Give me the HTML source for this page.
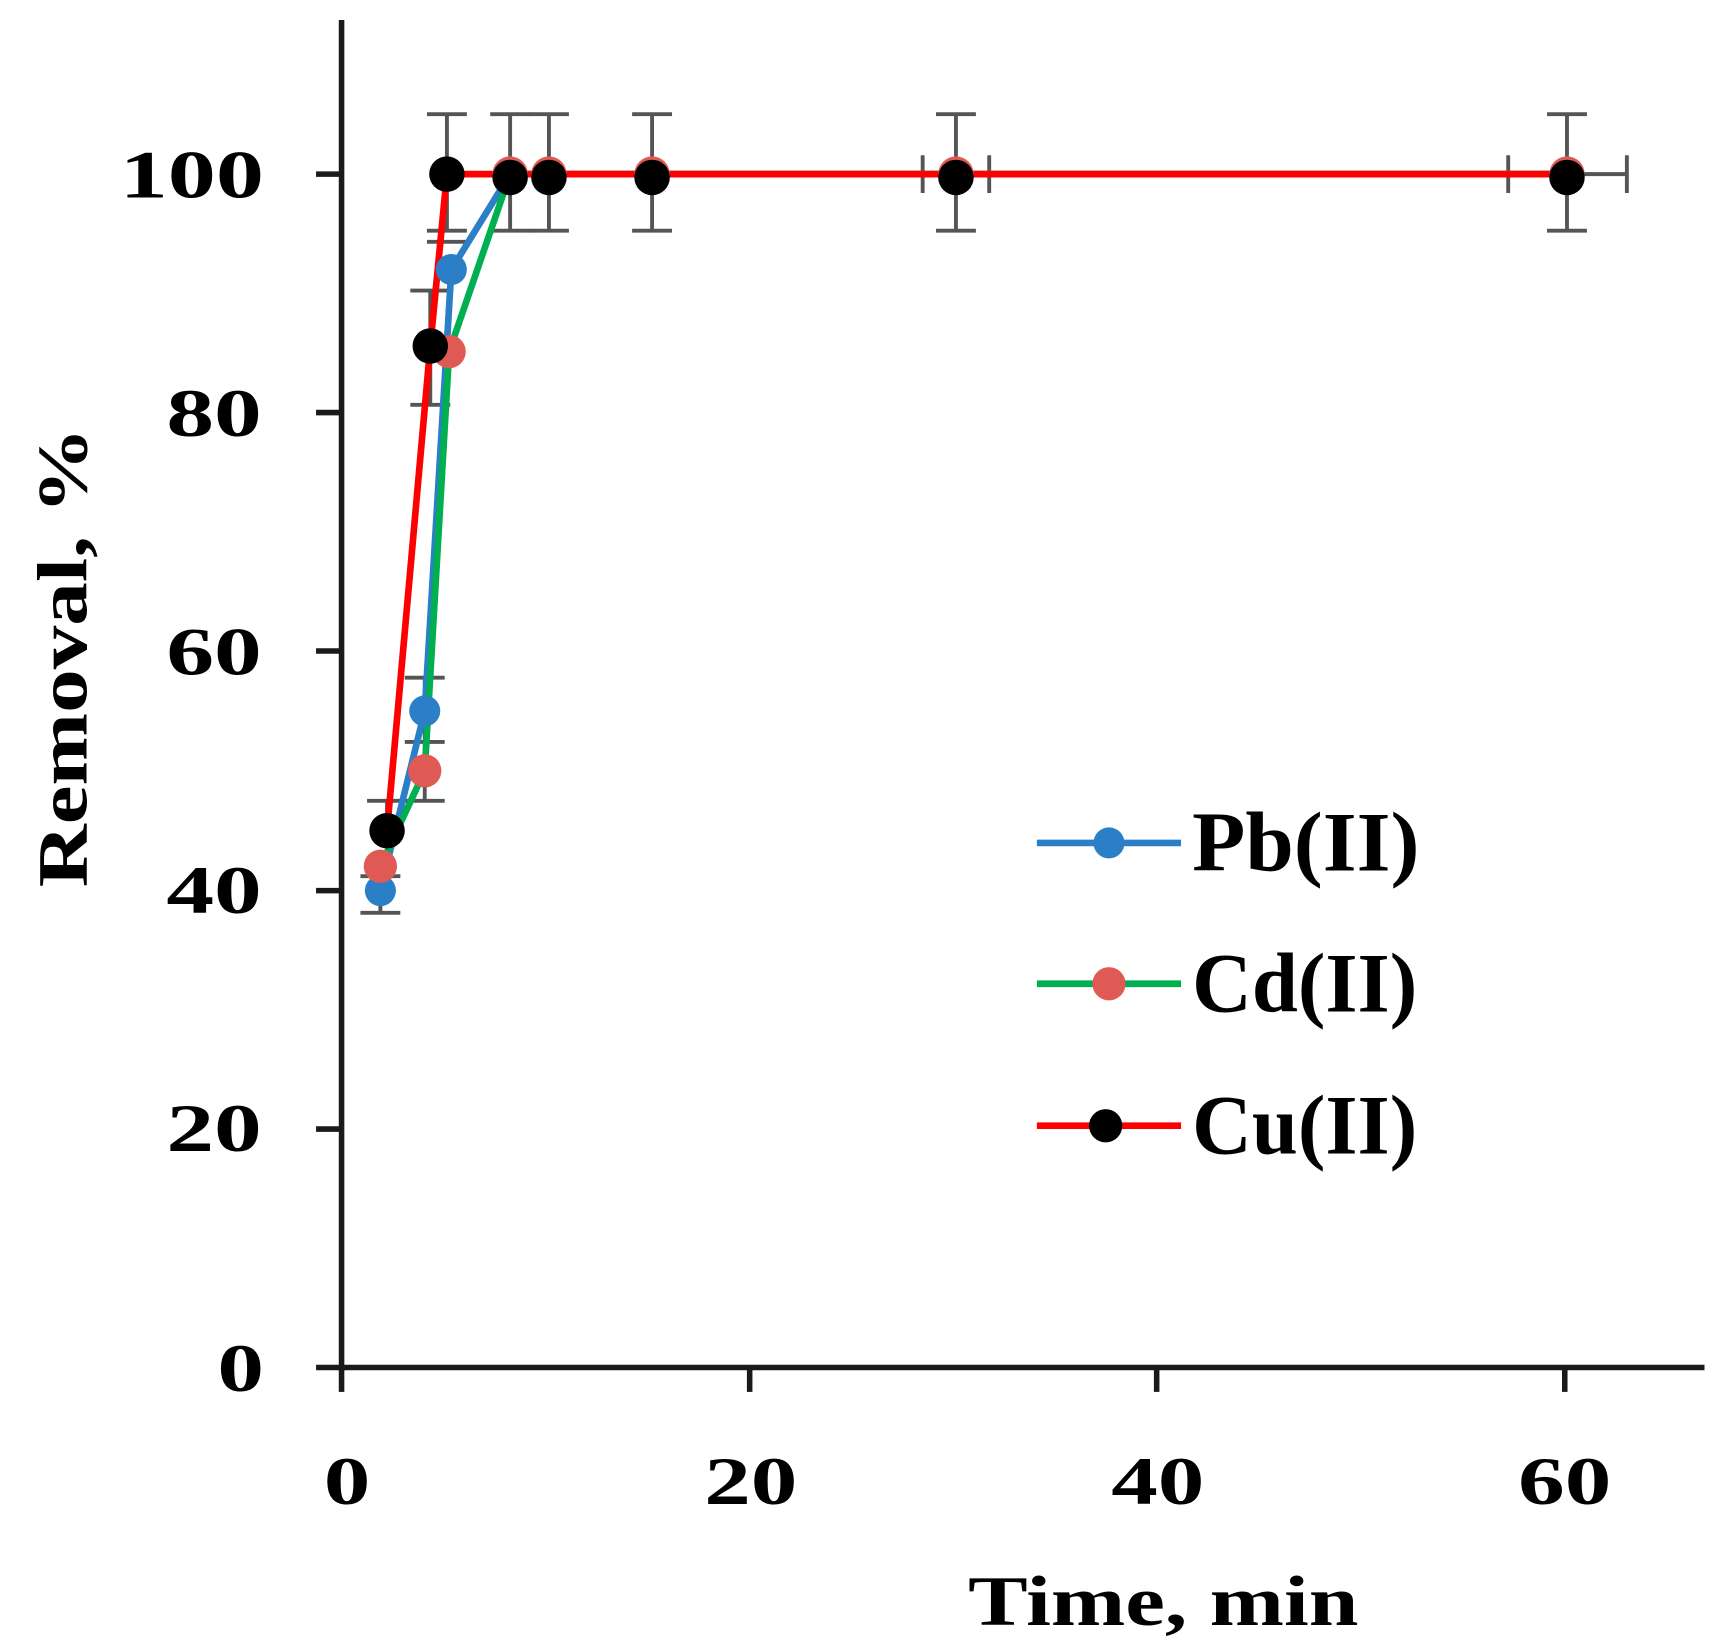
<!DOCTYPE html>
<html><head><style>html,body{margin:0;padding:0;background:#fff}svg{display:block}</style></head>
<body>
<svg width="1730" height="1647" viewBox="0 0 1560 1485" preserveAspectRatio="none" xmlns="http://www.w3.org/2000/svg" font-family="'Liberation Serif',serif" font-weight="bold">
<rect width="1560" height="1485" fill="#fff"/>
<g stroke="#1a1a1a" stroke-width="5">
<line x1="308" y1="18" x2="308" y2="1236"/>
<line x1="285" y1="1233" x2="1537" y2="1233"/>
<line x1="285" y1="157" x2="308" y2="157"/>
<line x1="285" y1="372" x2="308" y2="372"/>
<line x1="285" y1="587" x2="308" y2="587"/>
<line x1="285" y1="803" x2="308" y2="803"/>
<line x1="285" y1="1018" x2="308" y2="1018"/>
<line x1="308" y1="1233" x2="308" y2="1255"/>
<line x1="676" y1="1233" x2="676" y2="1255"/>
<line x1="1043" y1="1233" x2="1043" y2="1255"/>
<line x1="1411" y1="1233" x2="1411" y2="1255"/>
</g>
<g font-size="61" fill="#000">
<text x="108" y="178" textLength="130" lengthAdjust="spacingAndGlyphs">100</text>
<text x="150" y="393" textLength="86" lengthAdjust="spacingAndGlyphs">80</text>
<text x="150" y="608" textLength="86" lengthAdjust="spacingAndGlyphs">60</text>
<text x="150" y="823" textLength="86" lengthAdjust="spacingAndGlyphs">40</text>
<text x="150" y="1038" textLength="86" lengthAdjust="spacingAndGlyphs">20</text>
<text x="196" y="1254" textLength="42" lengthAdjust="spacingAndGlyphs">0</text>
<text x="292" y="1356" textLength="42" lengthAdjust="spacingAndGlyphs">0</text>
<text x="635" y="1356" textLength="84" lengthAdjust="spacingAndGlyphs">20</text>
<text x="1002" y="1356" textLength="84" lengthAdjust="spacingAndGlyphs">40</text>
<text x="1369" y="1356" textLength="84" lengthAdjust="spacingAndGlyphs">60</text>
</g>
<text x="873" y="1465" font-size="64" textLength="352" lengthAdjust="spacingAndGlyphs">Time, min</text>
<text transform="translate(78,800) rotate(-90)" font-size="64" textLength="415" lengthAdjust="spacingAndGlyphs">Removal, %</text>
<g stroke="#555" stroke-width="3.5" fill="none">
<path d="M343 790V823M325 823h36M325 790h36"/>
<path d="M383 611V669M365 611h36M365 669h36"/>
<path d="M383 670V722M365 722h36"/>
<path d="M388 262V365M370 262h36M370 365h36"/>
<path d="M349 722V776M331 722h36"/>
<path d="M403 103V208M385 103h36M385 208h36M385 218h36"/>
<path d="M460 103V208M442 103h36M442 208h36"/>
<path d="M495 103V208M477 103h36M477 208h36"/>
<path d="M588 103V208M570 103h36M570 208h36"/>
<path d="M862 103V208M844 103h36M844 208h36M832 157h60M832 140v34M892 140v34"/>
<path d="M1413 103V208M1395 103h36M1395 208h36M1360 157h107M1360 140v34M1467 140v34"/>
</g>
<g fill="none" stroke-width="6" stroke-linejoin="round">
<polyline stroke="#2a7fc6" points="343,803 383,641 407,243 460,157 495,157 588,157 862,157 1413,157"/>
<polyline stroke="#00b050" points="343,781 383,695 405,317 460,157 495,157 588,157 862,157 1413,157"/>
<polyline stroke="#ff0000" points="349,749 388,312 403,157 460,157 495,157 588,157 862,157 1413,157"/>
</g>
<g fill="#2a7fc6"><circle cx="343" cy="803" r="14"/><circle cx="383" cy="641" r="14"/><circle cx="407" cy="243" r="14"/></g>
<g fill="#e05a55"><circle cx="343" cy="781" r="15"/><circle cx="383" cy="695" r="15"/><circle cx="405" cy="317" r="15"/><circle cx="460" cy="157" r="16"/><circle cx="495" cy="157" r="16"/><circle cx="588" cy="157" r="16"/><circle cx="862" cy="157" r="16"/><circle cx="1413" cy="157" r="16"/></g>
<g fill="#000"><circle cx="349" cy="749" r="16"/><circle cx="388" cy="312" r="16"/><circle cx="403" cy="157" r="16"/><circle cx="460" cy="160" r="16"/><circle cx="495" cy="160" r="16"/><circle cx="588" cy="160" r="16"/><circle cx="862" cy="160" r="16"/><circle cx="1413" cy="160" r="16"/></g>
<line x1="935" y1="760" x2="1065" y2="760" stroke="#2a7fc6" stroke-width="6"/>
<circle cx="1000" cy="760" r="14" fill="#2a7fc6"/>
<line x1="935" y1="887" x2="1065" y2="887" stroke="#00b050" stroke-width="6"/>
<circle cx="1000" cy="887" r="15" fill="#e05a55"/>
<line x1="935" y1="1015" x2="1065" y2="1015" stroke="#ff0000" stroke-width="6"/>
<circle cx="997" cy="1015" r="15" fill="#000"/>
<g font-size="76" fill="#000">
<text x="1075" y="785" textLength="205" lengthAdjust="spacingAndGlyphs">Pb(II)</text>
<text x="1075" y="912" textLength="203" lengthAdjust="spacingAndGlyphs">Cd(II)</text>
<text x="1075" y="1040" textLength="203" lengthAdjust="spacingAndGlyphs">Cu(II)</text>
</g>
</svg>
</body></html>
